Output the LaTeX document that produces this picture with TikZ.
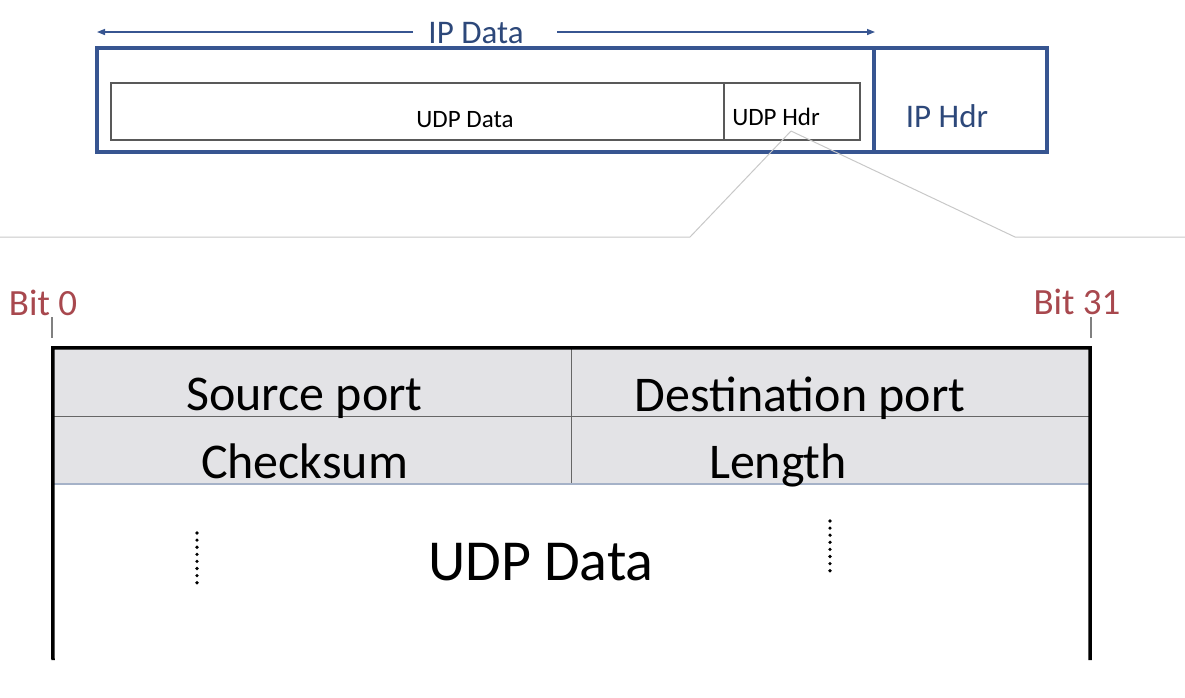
\documentclass[tikz,border=0pt]{standalone}
\usepackage{fontspec}
\setmainfont{Carlito}
\usetikzlibrary{positioning}
\usetikzlibrary{arrows.meta}
\definecolor{ipblue}{RGB}{55,85,145}
\definecolor{iptext}{RGB}{45,72,122}
\definecolor{bitred}{RGB}{168,72,78}
\definecolor{hdrgray}{RGB}{227,227,230}
\definecolor{zoomgray}{RGB}{200,200,200}
\definecolor{rowline}{RGB}{165,178,200}

\begin{document}
\begin{tikzpicture}[x=1pt, y=-1pt,
  ipbox/.style={draw=ipblue, line width=4pt, inner sep=0pt, minimum height=104pt},
  udpbox/.style={draw=black!65, line width=1.2pt, inner sep=0pt, minimum height=57pt},
  iplabel/.style={anchor=base, text=iptext, font=\fontsize{33}{40}\selectfont},
  udplabel/.style={anchor=base, font=\fontsize{25}{30}\selectfont},
  bitlabel/.style={anchor=base, text=bitred, font=\fontsize{37}{44}\selectfont},
  fieldlabel/.style={anchor=base, font=\fontsize{50}{60}\selectfont},
  zoomline/.style={draw=zoomgray, line width=1pt},
  dots/.style={line width=3.6pt, line cap=round, dash pattern=on 0pt off 7.1pt}]
\useasboundingbox (0,0) rectangle (1185,697);
% ip packet
\node[ipbox, minimum width=777pt] (ipdata) at (485.5,100) {};
\node[ipbox, minimum width=173pt] (iphdr) at (960.5,100) {};
\node[iplabel] (iphdrtxt) at (947,127) {IP Hdr};
% udp segment inside
\node[udpbox, minimum width=613pt] (udpdata) at (417.5,111.5) {};
\node[udpbox, minimum width=136pt] (udphdr) at (792,111.5) {};
\node[udplabel] (udpdatatxt) at (465,127) {UDP Data};
\node[udplabel] (udphdrtxt) at (776,125) {UDP Hdr};
% ip data span
\node[iplabel] (ipdatatxt) at (476,43) {IP Data};
\coordinate (spanL) at (97,32);
\coordinate (gapL) at (413,32);
\coordinate (gapR) at (557,32);
\coordinate (spanR) at (875,32);
\draw[ipblue, line width=1.4pt, -{Triangle[length=8pt, width=6pt]}] (gapL) -- (spanL);
\draw[ipblue, line width=1.4pt, -{Triangle[length=8pt, width=6pt]}] (gapR) -- (spanR);
% zoom lines
\coordinate (zoomtip) at (791,131);
\coordinate (zoomL) at (690,237);
\coordinate (zoomR) at (1015,237);
\coordinate (edgeL) at (0,237);
\coordinate (edgeR) at (1185,237);
\draw[zoomline] (zoomtip) -- (zoomL) -- (edgeL);
\draw[zoomline] (zoomtip) -- (zoomR) -- (edgeR);
% bit positions
\node[bitlabel] (bit0) at (43,315) {Bit 0};
\node[bitlabel] (bit31) at (1077,314) {Bit 31};
\draw[black!50, line width=1.3pt] (52,317) -- (52,338);
\draw[black!50, line width=1.3pt] (1091,317) -- (1091,338);
% udp header
\node[fill=hdrgray, inner sep=0pt, minimum width=1037pt, minimum height=136pt] (udphead) at (571.5,416) {};
\draw[black!60, line width=1pt] (udphead.west) -- (udphead.east);
\draw[black!60, line width=1pt] (udphead.north) -- (udphead.south);
\draw[rowline, line width=2pt] (udphead.south west) -- (udphead.south east);
\coordinate (frameBL) at (53,660);
\coordinate (frameBR) at (1090,660);
\draw[black, line width=3.5pt] (frameBL) -- (udphead.north west) -- (udphead.north east) -- (frameBR);
\node[fieldlabel] (srcport) at (304.5,410) {Source port};
\node[fieldlabel] (dstport) at (800,411) {Destination port};
\node[fieldlabel] (checksum) at (304.5,478) {Checksum};
\node[fieldlabel] (length) at (778,478) {Length};
% udp payload
\node[anchor=base, font=\fontsize{58}{70}\selectfont] (payload) at (541,580) {UDP Data};
\draw[dots] (197,533) -- (197,583);
\draw[dots] (830,521) -- (830,571);
\end{tikzpicture}
\end{document}
